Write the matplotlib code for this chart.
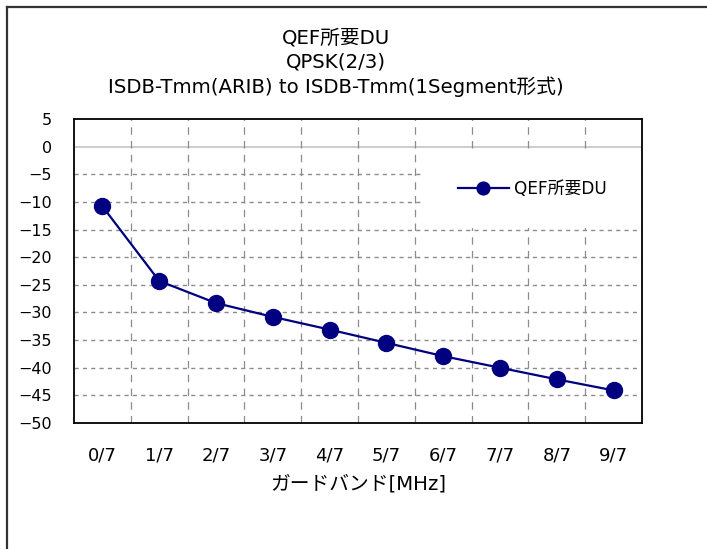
import matplotlib
matplotlib.use("Agg")
import matplotlib.pyplot as plt
from matplotlib.lines import Line2D
from matplotlib.patches import Rectangle

plt.rcParams['font.family'] = ['DejaVu Sans', 'Noto Sans CJK JP']

# Guard band categories and required D/U values
categories = ["0/7", "1/7", "2/7", "3/7", "4/7", "5/7", "6/7", "7/7", "8/7", "9/7"]
du_values = [-10.8, -24.3, -28.3, -30.8, -33.1, -35.5, -37.9, -40.0, -42.1, -44.1]
y_ticks = [5, 0, -5, -10, -15, -20, -25, -30, -35, -40, -45, -50]

title_lines = ["QEF所要DU", "QPSK(2/3)", "ISDB-Tmm(ARIB) to ISDB-Tmm(1Segment形式)"]
x_label = "ガードバンド[MHz]"
series_name = "QEF所要DU"

W, H = 707, 549
fig = plt.figure(figsize=(W / 100, H / 100), dpi=100)
fig.patch.set_facecolor("white")

# Outer chart border (top and left edges)
fig.add_artist(Line2D([6.5 / W, 1.0], [1 - 6.5 / H, 1 - 6.5 / H], color="#333333", lw=1.6,
                      transform=fig.transFigure))
fig.add_artist(Line2D([6.5 / W, 6.5 / W], [0.0, 1 - 6.5 / H], color="#333333", lw=1.6,
                      transform=fig.transFigure))

left, right, top, bottom = 74, 642, 119, 423
ax = fig.add_axes([left / W, 1 - bottom / H, (right - left) / W, (bottom - top) / H])

x = list(range(len(categories)))
ax.set_xlim(-0.5, len(categories) - 0.5)
ax.set_ylim(-50, 5)

ax.set_yticks(y_ticks)
ax.set_yticklabels([f"{v}".replace("-", "\u2212") for v in y_ticks])
ax.set_xticks(x)
ax.set_xticklabels(categories)

ax.tick_params(axis="both", which="both", length=0)
ax.tick_params(axis="y", labelsize=11.5, pad=16)
ax.tick_params(axis="x", labelsize=13, pad=17)

ax.set_axisbelow(True)
grid_color = "#8c8c8c"
for v in y_ticks:
    if v == 0:
        ax.axhline(v, color="#c8c8c8", lw=1.3, zorder=0.6)
    elif v not in (5, -50):
        ax.axhline(v, color=grid_color, lw=1.0, ls=(0, (3, 3)), zorder=0.6)
for xb in [i + 0.5 for i in x[:-1]]:
    ax.axvline(xb, color=grid_color, lw=0.9, ls=(0, (6, 5)), zorder=0.6)

for s in ax.spines.values():
    s.set_color("black")
    s.set_linewidth(1.3)

# White backing behind the legend entry
ax.add_patch(Rectangle(((423 - left) / (right - left), (bottom - 228) / (bottom - top)),
                       (639 - 423) / (right - left), (228 - 150) / (bottom - top),
                       transform=ax.transAxes, facecolor="white", edgecolor="none", zorder=1))

ax.plot(x, du_values, color="#000080", lw=1.6, marker="o", markersize=11.5,
        markerfacecolor="#000080", markeredgecolor="#000080", label=series_name, zorder=3)

leg = ax.legend(loc="center left",
                bbox_to_anchor=((458 - left) / (right - left), (bottom - 189) / (bottom - top)),
                frameon=False, fontsize=12.2, handlelength=3.0, handletextpad=0.3,
                borderpad=0, borderaxespad=0, markerscale=0.8)

ax.set_xlabel(x_label, fontsize=14.2, labelpad=7)

title_y = [38, 62, 87]
for txt, ty in zip(title_lines, title_y):
    fig.text(336 / W, 1 - ty / H, txt, ha="center", va="center", fontsize=14.2)

fig.savefig("out.png", dpi=100, facecolor="white")
